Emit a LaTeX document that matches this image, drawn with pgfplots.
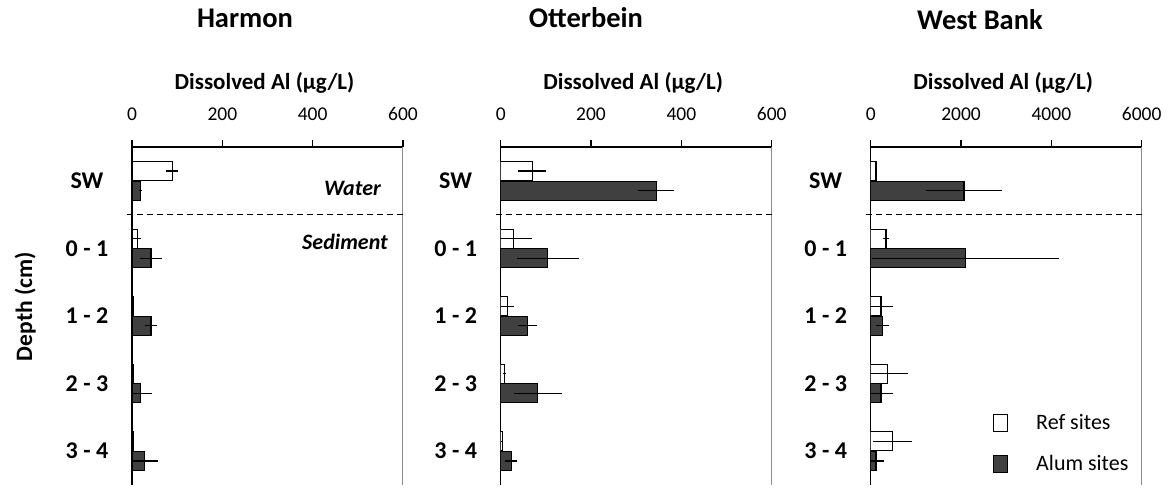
\documentclass[border=0pt]{standalone}
\usepackage{fontspec}
\setmainfont{Carlito}
\usepackage{pgfplots}
\pgfplotsset{compat=1.18}
\definecolor{alum}{HTML}{404040}
\definecolor{rgray}{HTML}{8C8C8C}
\pgfplotsset{
  panel/.style={
    scale only axis, width=271pt, height=338pt,
    xbar, bar width=19pt,
    xmin=0, ymin=-0.5, ymax=4.5, y dir=reverse,
    axis x line=top, axis y line=left,
    axis line style={-, black, line width=1.1pt},
    y axis line style={line width=1.5pt},
    tick align=outside,
    major tick length=7pt,
    tick style={black, line width=1.1pt},
    ytick={0,1,2,3,4},
    yticklabels={SW,0 - 1,1 - 2,2 - 3,3 - 4},
    ytick style={draw=none},
    extra y ticks={-0.5,0.5,1.5,2.5,3.5,4.5},
    extra y tick labels={},
    extra y tick style={major tick length=5pt, tick style={draw=black, line width=1.1pt}},
    yticklabel style={anchor=center, xshift=-38pt, font=\fontsize{24}{26}\selectfont\bfseries},
    xticklabel style={anchor=base, yshift=20pt, font=\fontsize{19.5}{21}\selectfont},
    /pgf/number format/assume math mode=true,
    xlabel={Dissolved Al (μg/L)},
    xlabel style={at={(rel axis cs:0.5,1)}, anchor=base, yshift=58pt, xshift=-3pt, font=\fontsize{23}{25}\selectfont\bfseries},
    clip mode=individual,
  },
  refbar/.style={draw=black, fill=white, line width=1.1pt, bar shift=0pt,
    error bars/.cd, x dir=both, x explicit, error mark=none,
    error bar style={line width=1.1pt, black}},
  alumbar/.style={draw=black, fill=alum, line width=1.1pt, bar shift=0pt,
    error bars/.cd, x dir=both, x explicit, error mark=none,
    error bar style={line width=1.1pt, black}},
}
\begin{document}
\begin{tikzpicture}[x=1pt,y=1pt]
\path[use as bounding box] (0,0) rectangle (1171,-488);
% ---------------- Harmon
\begin{axis}[panel, at={(132pt,-485pt)}, anchor=south west,
  xmax=600, xtick={0,200,400,600}, xticklabels={0,200,400,600}]
\addplot[refbar] coordinates {
 (89,-0.145) +- (13,0)
 (12,0.855) +- (9,0)
 (4,1.855) +- (0,0)
 (3,2.855) +- (0,0)
 (3,3.855) +- (0,0)};
\addplot[alumbar] coordinates {
 (19,0.145) +- (3,0)
 (42,1.145) +- (24,0)
 (42,2.145) +- (13,0)
 (19,3.145) +- (25,0)
 (27,4.145) +- (31,0)};
\draw[rgray, line width=1pt] (rel axis cs:1,0) -- (rel axis cs:1,1);
\draw[black, line width=1.1pt, dash pattern=on 6pt off 4pt] ([xshift=-5pt]axis cs:0,0.5) -- (axis cs:600,0.5);
\end{axis}
% ---------------- Otterbein
\begin{axis}[panel, at={(500.7pt,-485pt)}, anchor=south west,
  xmax=600, xtick={0,200,400,600}, xticklabels={0,200,400,600}]
\addplot[refbar] coordinates {
 (70,-0.145) +- (31,0)
 (29,0.855) +- (41,0)
 (15,1.855) +- (14,0)
 (8,2.855) +- (3,0)
 (3,3.855) +- (2,0)};
\addplot[alumbar] coordinates {
 (344,0.145) +- (40,0)
 (104,1.145) +- (69,0)
 (60,2.145) +- (21,0)
 (82,3.145) +- (53,0)
 (23,4.145) +- (14,0)};
\draw[rgray, line width=1pt] (rel axis cs:1,0) -- (rel axis cs:1,1);
\draw[black, line width=1.1pt, dash pattern=on 6pt off 4pt] ([xshift=-5pt]axis cs:0,0.5) -- (axis cs:600,0.5);
\end{axis}
% ---------------- West Bank
\begin{axis}[panel, at={(870.7pt,-485pt)}, anchor=south west,
  xmax=6000, xtick={0,2000,4000,6000}, xticklabels={0,2000,4000,6000},
  legend style={draw=none, fill=none, at={(rel axis cs:0.451,0.215)}, anchor=north west,
    font=\fontsize{22}{24}\selectfont, row sep=20pt, inner sep=0pt,
    /tikz/every odd column/.append style={column sep=26pt}},
  legend cell align=left,
  legend image code/.code={\draw[#1, line width=1.1pt] (0pt,-8.5pt) rectangle (14pt,8.5pt);}]
\addplot[refbar] coordinates {
 (117,-0.145) +- (20,0)
 (339,0.855) +- (70,0)
 (228,1.855) +- (260,0)
 (376,2.855) +- (440,0)
 (487,3.855) +- (430,0)};
\addlegendentry{Ref sites}
\addplot[alumbar] coordinates {
 (2066,0.145) +- (840,0)
 (2103,1.145) +- (2070,0)
 (265,2.145) +- (150,0)
 (228,3.145) +- (260,0)
 (117,4.145) +- (180,0)};
\addlegendentry{Alum sites}
\draw[rgray, line width=1pt] (rel axis cs:1,0) -- (rel axis cs:1,1);
\draw[black, line width=1.1pt, dash pattern=on 6pt off 4pt] ([xshift=-5pt]axis cs:0,0.5) -- (axis cs:6000,0.5);
\end{axis}
% ---------------- texts
\node[anchor=base, font=\fontsize{28.5}{30}\selectfont\bfseries] at (245,-27) {Harmon};
\node[anchor=base, font=\fontsize{28.5}{30}\selectfont\bfseries] at (586,-27) {Otterbein};
\node[anchor=base, font=\fontsize{28.5}{30}\selectfont\bfseries] at (980,-29.5) {West Bank};
\node[rotate=90, anchor=base, font=\fontsize{23.5}{25}\selectfont\bfseries] at (32,-306.7) {Depth (cm)};
\node[anchor=east, font=\fontsize{22}{24}\selectfont\bfseries\itshape, inner sep=0pt] at (381,-188) {Water};
\node[anchor=east, font=\fontsize{22}{24}\selectfont\bfseries\itshape, inner sep=0pt] at (388,-241.7) {Sediment};
\end{tikzpicture}
\end{document}
